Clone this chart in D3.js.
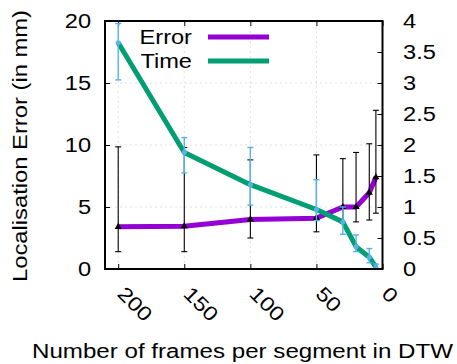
<!DOCTYPE html>
<html>
<head>
<meta charset="utf-8">
<script src="https://cdn.jsdelivr.net/npm/d3@7"></script>
<style>
  html, body { margin: 0; padding: 0; background: #fff; }
  svg { display: block; font-family: "Liberation Sans", Arial, sans-serif; }
</style>
</head>
<body>
<svg id="chart" width="457" height="364"></svg>
<script>
// Frames per segment used for DTW
const frames = [200, 150, 100, 50, 30, 20, 10, 5];

// Localisation error (mm): mean with lower / upper bounds
const errorMean = [3.4, 3.45, 4.0, 4.1, 5.0, 5.0, 6.15, 7.4];
const errorLow  = [1.4, 1.4, 2.5, 3.0, 3.7, 3.8, 3.95, 4.5];
const errorHigh = [9.85, 9.8, 8.8, 9.2, 8.9, 9.4, 10.1, 12.8];

// Time (right axis): mean with lower / upper bounds
const timeMean = [3.65, 1.88, 1.36, 0.96, 0.76, 0.36, 0.19, 0.03];
const timeLow  = [3.05, 1.55, 1.03, 0.78, 0.56, 0.28, 0.10, 0.0];
const timeHigh = [3.96, 2.12, 1.96, 1.44, 1.0, 0.55, 0.33, 0.08];

const xTicks = [200, 150, 100, 50, 0];
const yTicks = [0, 5, 10, 15, 20];
const y2Ticks = [0, 0.5, 1, 1.5, 2, 2.5, 3, 3.5, 4];
const y2Labels = ["0", "0.5", "1", "1.5", "2", "2.5", "3", "3.5", "4"];

const legendNames = ["Error", "Time"];
const colors = { error: "#9400d3", time: "#009e73", timeBar: "#56b4e9", errBar: "#000" };

const svg = d3.select("#chart");
const L = 105, R = 382.5, T = 21, B = 269;
const FS = 20;       // font size of all text
const WIDEN = 1.18;  // horizontal widening of the lettering

// widen text horizontally by a fixed factor
function widen(sel, k = WIDEN) {
  sel.each(function () {
    const len = this.getComputedTextLength();
    d3.select(this).attr("textLength", len * k).attr("lengthAdjust", "spacingAndGlyphs");
  });
}

const x = d3.scaleLinear().domain([210, 0]).range([L, R]);
const y = d3.scaleLinear().domain([0, 20]).range([B, T]);
const y2 = d3.scaleLinear().domain([0, 4]).range([B, T]);

// grid
const grid = svg.append("g").attr("stroke", "#d8d8d8").attr("stroke-width", 0.8).attr("stroke-dasharray", "2,3");
grid.selectAll("line.v").data(xTicks.filter(d => d > 0)).join("line")
  .attr("x1", d => x(d)).attr("x2", d => x(d)).attr("y1", T).attr("y2", B);
grid.selectAll("line.h").data(yTicks.filter(d => d > 0 && d < 20)).join("line")
  .attr("x1", L).attr("x2", R).attr("y1", d => y(d)).attr("y2", d => y(d));

// axes with inward ticks
const tick = 5;
svg.append("g").attr("transform", `translate(${L},0)`)
  .call(d3.axisLeft(y).tickValues(yTicks).tickSize(-tick).tickPadding(14).tickFormat(d3.format("d")))
  .call(g => {
    g.select(".domain").remove();
    g.selectAll("line").attr("stroke", "#000");
    g.selectAll("text").attr("font-size", FS).attr("fill", "#000").call(widen);
  });

svg.append("g").attr("transform", `translate(${R},0)`)
  .call(d3.axisRight(y2).tickValues(y2Ticks).tickSize(-tick).tickPadding(20.5).tickFormat((d, i) => y2Labels[i]))
  .call(g => {
    g.select(".domain").remove();
    g.selectAll("line").attr("stroke", "#000");
    g.selectAll("text").attr("font-size", FS).attr("fill", "#000").call(widen);
  });

svg.append("g").attr("transform", `translate(0,${B})`)
  .call(d3.axisBottom(x).tickValues(xTicks).tickSize(-tick).tickFormat(""))
  .call(g => { g.select(".domain").remove(); g.selectAll("line").attr("stroke", "#000"); });
svg.append("g").attr("transform", `translate(0,${T})`)
  .call(d3.axisTop(x).tickValues(xTicks).tickSize(-tick).tickFormat(""))
  .call(g => { g.select(".domain").remove(); g.selectAll("line").attr("stroke", "#000"); });

// rotated x tick labels
svg.append("g").selectAll("text").data(xTicks).join("text")
  .attr("transform", d => `translate(${x(d) - 2},${B + 26}) rotate(45)`)
  .attr("font-size", FS).attr("fill", "#000")
  .text(d => d)
  .call(widen);

// series helpers
const idx = d3.range(frames.length);
const errLine = d3.line().x(i => x(frames[i])).y(i => y(errorMean[i]));
const timeLine = d3.line().x(i => x(frames[i])).y(i => y2(timeMean[i]));

function errorBars(g, ys, lo, hi, color, w) {
  const cap = 3;
  const sel = g.selectAll("g").data(idx).join("g").attr("stroke", color).attr("stroke-width", w);
  sel.append("line").attr("x1", i => x(frames[i])).attr("x2", i => x(frames[i]))
    .attr("y1", i => ys(lo[i])).attr("y2", i => ys(hi[i]));
  sel.append("line").attr("x1", i => x(frames[i]) - cap).attr("x2", i => x(frames[i]) + cap)
    .attr("y1", i => ys(lo[i])).attr("y2", i => ys(lo[i]));
  sel.append("line").attr("x1", i => x(frames[i]) - cap).attr("x2", i => x(frames[i]) + cap)
    .attr("y1", i => ys(hi[i])).attr("y2", i => ys(hi[i]));
}

// Error series
svg.append("path").datum(idx).attr("d", errLine)
  .attr("fill", "none").attr("stroke", colors.error).attr("stroke-width", 5).attr("stroke-linejoin", "round");
errorBars(svg.append("g"), y, errorLow, errorHigh, colors.errBar, 1.1);
svg.append("g").selectAll("path").data(idx).join("path")
  .attr("transform", i => `translate(${x(frames[i])},${y(errorMean[i])})`)
  .attr("d", d3.symbol(d3.symbolTriangle, 22)).attr("fill", "#000");

// Time series
svg.append("path").datum(idx).attr("d", timeLine)
  .attr("fill", "none").attr("stroke", colors.time).attr("stroke-width", 5).attr("stroke-linejoin", "round");
errorBars(svg.append("g"), y2, timeLow, timeHigh, colors.timeBar, 1.4);
svg.append("g").selectAll("circle").data(idx).join("circle")
  .attr("cx", i => x(frames[i])).attr("cy", i => y2(timeMean[i])).attr("r", 2.5)
  .attr("fill", colors.timeBar);

// frame
svg.append("rect").attr("x", L).attr("y", T).attr("width", R - L).attr("height", B - T)
  .attr("fill", "none").attr("stroke", "#000").attr("stroke-width", 2);

// legend
const leg = svg.append("g");
[colors.error, colors.time].forEach((c, i) => {
  const yy = 37 + i * 24;
  leg.append("text").attr("x", 192).attr("y", yy + 7).attr("text-anchor", "end")
    .attr("font-size", FS).text(legendNames[i]).call(widen);
  leg.append("line").attr("x1", 208).attr("x2", 269).attr("y1", yy).attr("y2", yy)
    .attr("stroke", c).attr("stroke-width", 5);
});

// axis titles
svg.append("text").attr("x", 242.5).attr("y", 358).attr("text-anchor", "middle")
  .attr("font-size", FS).attr("textLength", 421).attr("lengthAdjust", "spacingAndGlyphs")
  .text("Number of frames per segment in DTW");
svg.append("text").attr("transform", "translate(27,146) rotate(-90)").attr("text-anchor", "middle")
  .attr("font-size", FS).attr("textLength", 272).attr("lengthAdjust", "spacingAndGlyphs")
  .text("Localisation Error (in mm)");
</script>
</body>
</html>
